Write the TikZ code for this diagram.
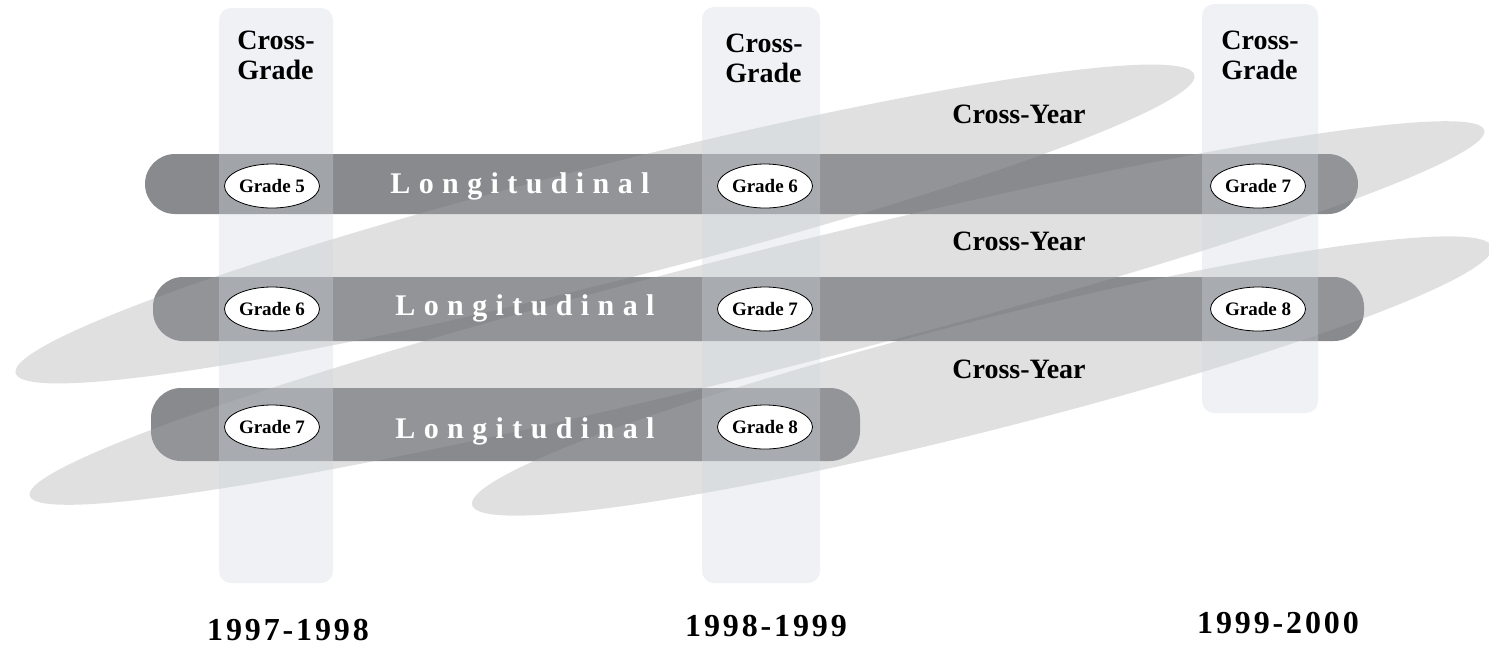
\documentclass[tikz,border=0pt]{standalone}
\usepackage{fontspec}
\setmainfont{Liberation Serif}
\newfontfamily\spacedfont[LetterSpace=28]{Liberation Serif}
\newfontfamily\yearfont[LetterSpace=9]{Liberation Serif}
\usetikzlibrary{shapes.geometric}
\definecolor{bargray}{RGB}{137,138,141}
\definecolor{yeargray}{RGB}{166,167,170}
\definecolor{gradeblue}{RGB}{208,216,224}

\begin{document}
\begin{tikzpicture}[
        x=0.5pt, y=-0.5pt, % one unit = one pixel of the layout
        node distance=246.5pt, % distance between school years
        grade/.style={draw, thin, fill=white, ellipse, inner sep=0pt, minimum width=47.5pt, minimum height=22pt, font=\bfseries\fontsize{9.5}{11}\selectfont}, % grade ovals
        bar/.style={fill=bargray, rounded corners=15pt}, % longitudinal bars
        band/.style={fill=yeargray, fill opacity=0.35}, % cross-year bands
        column/.style={fill=gradeblue, fill opacity=0.35, rounded corners=6pt}, % cross-grade columns
        longtext/.style={text=white, anchor=base, font=\spacedfont\bfseries\fontsize{15}{18}\selectfont},
        yeartext/.style={anchor=base, font=\bfseries\fontsize{14}{17}\selectfont},
        gradetext/.style={anchor=north west, inner sep=0pt, align=left, font=\bfseries\fontsize{14}{15}\selectfont},
        schoolyear/.style={anchor=base, font=\yearfont\bfseries\fontsize{16}{19}\selectfont}
        ]
        \useasboundingbox (0,0) rectangle (1489,644);

        % Longitudinal bars
        \fill[bar] (145,154) rectangle (1358,214);
        \fill[bar] (153,277) rectangle (1364,341);
        \fill[bar] (151,388) rectangle (860,461);

        % Cross-year bands
        \fill[band, rotate around={14.2:(605,224)}] (605,224) ellipse [x radius=608, y radius=58];
        \fill[band, rotate around={14.1:(757,313)}] (757,313) ellipse [x radius=750, y radius=60];
        \fill[band, rotate around={14.2:(982,376)}] (982,376) ellipse [x radius=526, y radius=55];

        % Cross-grade columns
        \fill[column] (219,8) rectangle (333,583);
        \fill[column] (702,7) rectangle (820,583);
        \fill[column] (1202,4) rectangle (1318,413);

        % Grade ovals
        \node[grade] (g97a) at (272,186) {Grade 5};
        \node[grade, right of=g97a] (g98a) {Grade 6};
        \node[grade, right of=g98a] (g99a) {Grade 7};
        \node[grade] (g97b) at (272,309) {Grade 6};
        \node[grade, right of=g97b] (g98b) {Grade 7};
        \node[grade, right of=g98b] (g99b) {Grade 8};
        \node[grade] (g97c) at (272,427) {Grade 7};
        \node[grade, right of=g97c] (g98c) {Grade 8};

        % Labels
        \node[longtext] (long1) at (520,193) {Longitudinal};
        \node[longtext] (long2) at (525,315) {Longitudinal};
        \node[longtext] (long3) at (525,438) {Longitudinal};
        \node[yeartext] (cy1) at (1019,123) {Cross-Year};
        \node[yeartext] (cy2) at (1019,250) {Cross-Year};
        \node[yeartext] (cy3) at (1019,378) {Cross-Year};
        \node[gradetext] (cg97) at (237,31) {Cross-\\Grade};
        \node[gradetext] (cg98) at (725,34) {Cross-\\Grade};
        \node[gradetext] (cg99) at (1221,31) {Cross-\\Grade};
        \node[schoolyear] (sy97) at (288,640) {1997-1998};
        \node[schoolyear] (sy98) at (766,636) {1998-1999};
        \node[schoolyear] (sy99) at (1278,633) {1999-2000};
    \end{tikzpicture}
\end{document}
